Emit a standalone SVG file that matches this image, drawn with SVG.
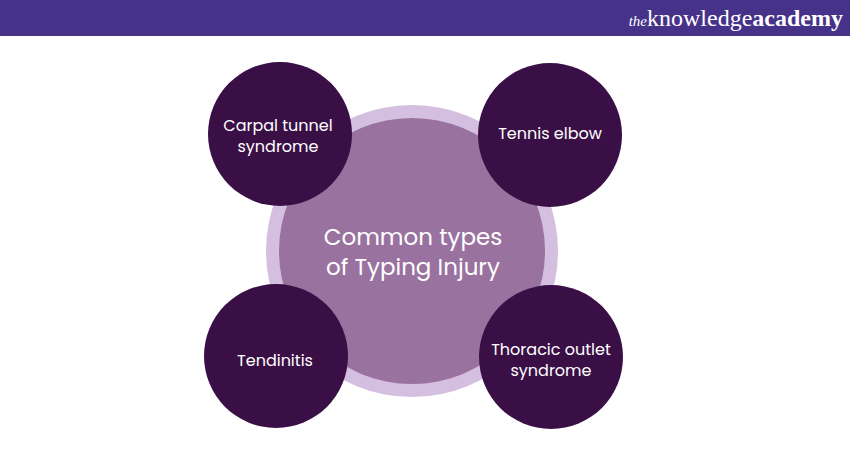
<svg xmlns="http://www.w3.org/2000/svg" width="850" height="450" viewBox="0 0 850 450">
<style>
.dark{fill:#3a0f46}
.lbl{font-family:Poppins,"Noto Sans","Liberation Sans",sans-serif;font-size:16px;fill:#ffffff;text-anchor:middle;font-weight:400}
.ctr{font-family:Poppins,"Noto Sans","Liberation Sans",sans-serif;font-size:23px;fill:#ffffff;text-anchor:middle;font-weight:400}
</style>
<rect x="0" y="0" width="850" height="450" fill="#ffffff"/>
<g id="header">
<rect x="0" y="0" width="850" height="36" fill="#47328a"/>
<text x="843" y="26" text-anchor="end" font-family="'Liberation Serif',serif" fill="#ffffff"><tspan font-style="italic" font-size="15">the</tspan><tspan font-size="24">knowledge</tspan><tspan font-size="24" font-weight="bold">academy</tspan></text>
</g>
<g id="center">
<circle cx="412" cy="251" r="146" fill="#d5bfe0"/>
<circle cx="412" cy="251" r="133" fill="#9a729f"/>
<text class="ctr" x="413" y="245">Common types</text>
<text class="ctr" x="413" y="275">of Typing Injury</text>
</g>
<g id="connectors"></g>
<g id="carpal">
<circle class="dark" cx="280" cy="134" r="72"/>
<text class="lbl" x="278" y="131">Carpal tunnel</text>
<text class="lbl" x="278" y="152">syndrome</text>
</g>
<g id="tennis">
<circle class="dark" cx="550" cy="135" r="72"/>
<text class="lbl" x="550" y="139">Tennis elbow</text>
</g>
<g id="tendinitis">
<circle class="dark" cx="276" cy="356" r="72"/>
<text class="lbl" x="275" y="366">Tendinitis</text>
</g>
<g id="thoracic">
<circle class="dark" cx="551" cy="357" r="72"/>
<text class="lbl" x="551" y="355">Thoracic outlet</text>
<text class="lbl" x="551" y="376">syndrome</text>
</g>
</svg>
